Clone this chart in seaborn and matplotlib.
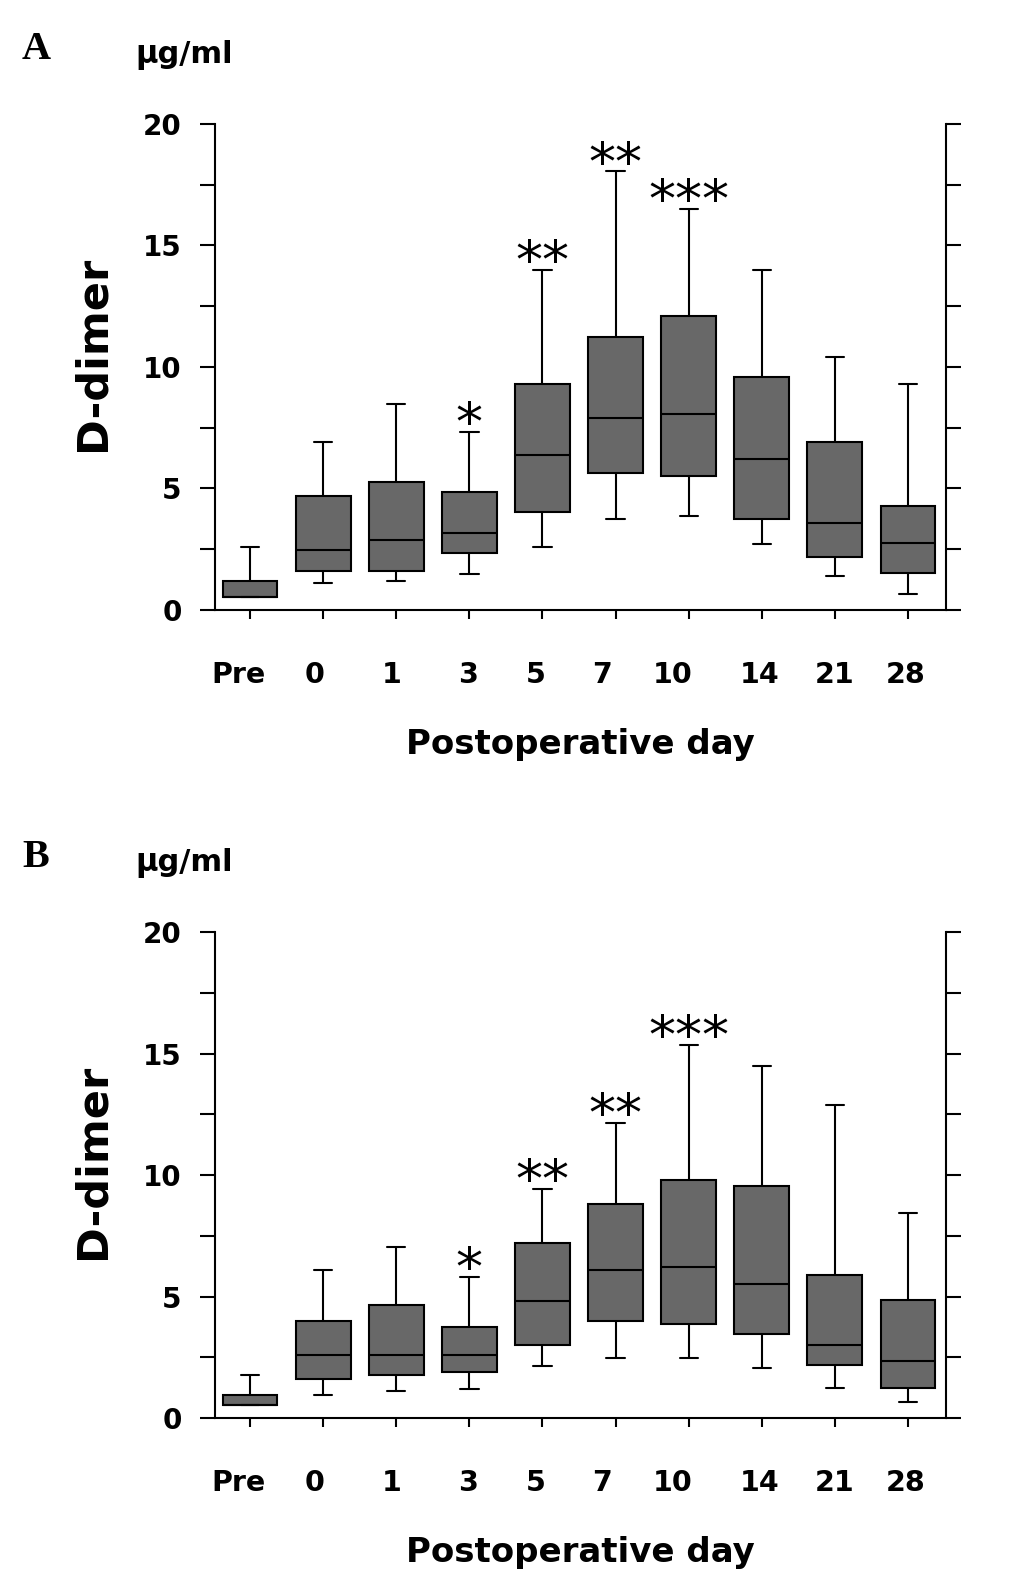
import numpy as np
import pandas as pd
import matplotlib
matplotlib.use("Agg")
import matplotlib.pyplot as plt
from matplotlib.transforms import ScaledTranslation
import seaborn as sns

# ---------------- data ----------------
days = ["Pre", "0", "1", "3", "5", "7", "10", "14", "21", "28"]
marks = ["", "", "", "*", "**", "**", "***", "", "", ""]

# Panel A: whisker low, Q1, median, Q3, whisker high (µg/ml)
a_low = [0.54, 1.10, 1.21, 1.50, 2.61, 3.74, 3.85, 2.72, 1.38, 0.65]
a_q1 = [0.54, 1.60, 1.60, 2.34, 4.03, 5.65, 5.53, 3.74, 2.17, 1.51]
a_med = [0.54, 2.45, 2.87, 3.18, 6.37, 7.88, 8.05, 6.22, 3.56, 2.75]
a_q3 = [1.20, 4.68, 5.25, 4.85, 9.28, 11.24, 12.08, 9.58, 6.92, 4.29]
a_high = [2.60, 6.93, 8.46, 7.32, 14.00, 18.05, 16.52, 14.00, 10.40, 9.28]

# Panel B
b_low = [0.54, 0.93, 1.10, 1.21, 2.16, 2.45, 2.45, 2.05, 1.23, 0.67]
b_q1 = [0.54, 1.61, 1.78, 1.89, 3.01, 4.01, 3.86, 3.46, 2.17, 1.23]
b_med = [0.54, 2.61, 2.61, 2.61, 4.82, 6.08, 6.21, 5.53, 3.00, 2.35]
b_q3 = [0.93, 4.01, 4.67, 3.74, 7.19, 8.81, 9.81, 9.54, 5.90, 4.85]
b_high = [1.78, 6.08, 7.03, 5.80, 9.43, 12.16, 15.37, 14.50, 12.90, 8.43]

y_ticks = [0, 2.5, 5, 7.5, 10, 12.5, 15, 17.5, 20]
y_ticklabels = ["0", "", "5", "", "10", "", "15", "", "20"]

# horizontal nudge of each day label in the original layout (pixels)
label_shift_px = [-12, -9, -5, -1, -7, -14, -16, -2, 0, -2]


def long_frame(low, q1, med, q3, high):
    rows = []
    for d, vals in zip(days, zip(low, q1, med, q3, high)):
        for v in vals:
            rows.append({"day": d, "value": v})
    return pd.DataFrame(rows)


sns.set_style("ticks")
plt.rcParams["font.family"] = ["DejaVu Sans"]
plt.rcParams["text.color"] = "black"
plt.rcParams["axes.labelcolor"] = "black"
plt.rcParams["xtick.color"] = "black"
plt.rcParams["ytick.color"] = "black"

BOX_GRAY = "#686868"
LW = 1.5

fig = plt.figure(figsize=(10.33, 15.77), dpi=100)
ax_a = fig.add_axes([0.2081, 0.6132, 0.7077, 0.3082])
ax_b = fig.add_axes([0.2081, 0.1008, 0.7077, 0.3082])

panels = [
    (ax_a, "A", (a_low, a_q1, a_med, a_q3, a_high)),
    (ax_b, "B", (b_low, b_q1, b_med, b_q3, b_high)),
]

for ax, letter, stats in panels:
    df = long_frame(*stats)
    sns.boxplot(
        data=df, x="day", y="value", order=days, ax=ax,
        color=BOX_GRAY, saturation=1, width=0.75, whis=(0, 100),
        linewidth=LW, linecolor="black", fliersize=0,
        capwidths=0.25,
    )
    for p in ax.patches:
        p.set_facecolor(BOX_GRAY)
        p.set_edgecolor("black")
    ax.set_xlim(-0.48, 9.52)
    ax.set_ylim(0, 20)
    ax.set_xlabel("")
    ax.set_ylabel("")
    ax.set_yticks(y_ticks)
    ax.set_yticklabels(y_ticklabels)
    ax.set_xticks(range(len(days)))
    ax.set_xticklabels(days)

    for side in ["left", "right", "bottom"]:
        ax.spines[side].set_visible(True)
        ax.spines[side].set_linewidth(LW)
        ax.spines[side].set_color("black")
    ax.spines["top"].set_visible(False)

    ax.tick_params(axis="y", which="major", left=True, right=True,
                   labelleft=True, labelright=False, direction="out",
                   length=11, width=LW, pad=13, labelsize=20,
                   colors="black")
    ax.tick_params(axis="x", which="major", bottom=True, top=False,
                   direction="out", length=6.5, width=LW, pad=30,
                   labelsize=20.5, colors="black")
    for lbl in ax.get_xticklabels() + ax.get_yticklabels():
        lbl.set_fontweight("bold")
        lbl.set_color("black")
    for lbl, sh in zip(ax.get_xticklabels(), label_shift_px):
        lbl.set_transform(lbl.get_transform()
                          + ScaledTranslation(sh / 100.0, 0,
                                              fig.dpi_scale_trans))

    high = stats[4]
    for i, m in enumerate(marks):
        if m:
            ax.annotate(m, xy=(i, high[i]), xytext=(0, -6),
                        textcoords="offset points", ha="center",
                        va="baseline", fontsize=39, color="black")

    ax.text(-0.1676, 0.528, "D-dimer", rotation=90, ha="center",
            va="center", transform=ax.transAxes, fontsize=31,
            fontweight="bold", color="black")
    ax.text(0.5, -0.277, "Postoperative day", ha="center", va="center",
            transform=ax.transAxes, fontsize=24.5, fontweight="bold",
            color="black")
    ax.text(-0.1094, 1.125, "μg/ml", ha="left", va="baseline",
            transform=ax.transAxes, fontsize=22, fontweight="bold",
            color="black")
    ax.text(-0.2449, 1.134, letter, ha="center", va="baseline",
            transform=ax.transAxes, fontsize=29, fontweight="bold",
            family=["Liberation Serif", "DejaVu Serif"], color="black")

fig.savefig("out.png", dpi=100, facecolor="white")
